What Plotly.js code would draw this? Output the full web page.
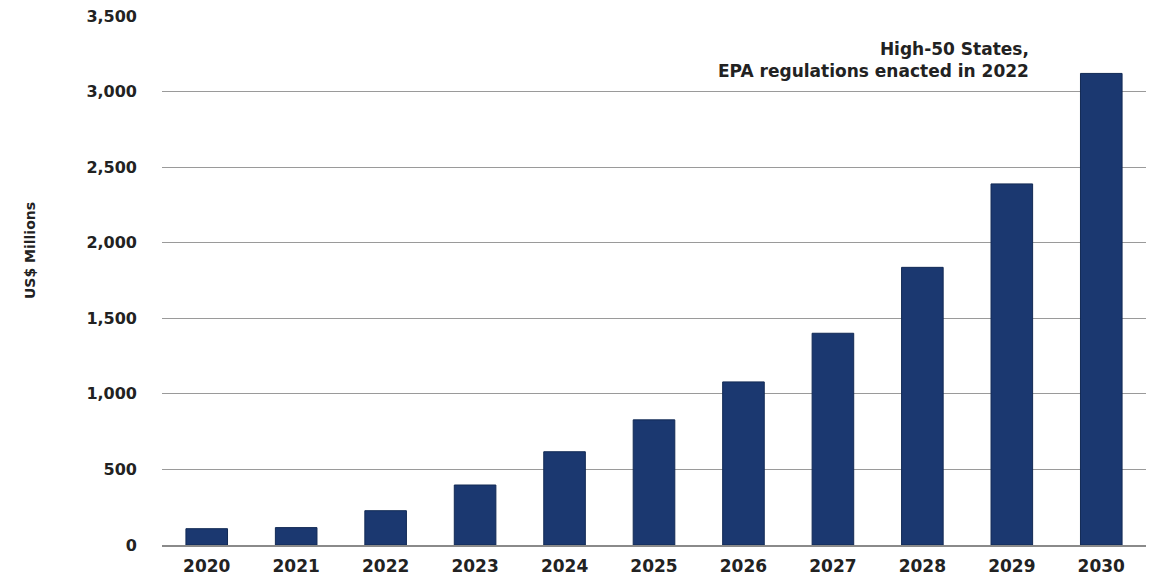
<!DOCTYPE html>
<html>
<head>
<meta charset="utf-8">
<script src="https://cdn.plot.ly/plotly-3.0.1.min.js"></script>
<style>html,body{margin:0;padding:0;background:#fff;}#chart{width:1161px;height:579px;}</style>
</head>
<body>
<div id="chart"></div>
<script>
const years = ["2020","2021","2022","2023","2024","2025","2026","2027","2028","2029","2030"];
const values = [108, 115, 227, 397, 617, 828, 1079, 1401, 1837, 2389, 3120];
const yTickVals = [0, 500, 1000, 1500, 2000, 2500, 3000, 3500];
const yTickText = ["0", "500", "1,000", "1,500", "2,000", "2,500", "3,000", "3,500"];
const yTitleText = "US$ Millions";
const noteText = "High-50 States,<br>EPA regulations enacted in 2022";

const fontFam = "DejaVu Sans, Liberation Sans, Arial, sans-serif";

const data = [{
  type: "bar",
  x: years,
  y: values,
  marker: { color: "#1b3870", line: { color: "#122a55", width: 1 } },
  hoverinfo: "x+y"
}];

const layout = {
  width: 1161,
  height: 579,
  margin: { l: 162, r: 15, t: 16, b: 34, pad: 0 },
  paper_bgcolor: "#ffffff",
  plot_bgcolor: "#ffffff",
  showlegend: false,
  bargap: 0.535,
  font: { family: fontFam, color: "#222222" },
  xaxis: {
    type: "category",
    tickfont: { family: fontFam, size: 17, color: "#222222", weight: "bold" },
    ticks: "",
    showline: true,
    linecolor: "#8a8a8a",
    linewidth: 1.5,
    showgrid: false,
    ticklabelstandoff: 5
  },
  yaxis: {
    range: [0, 3500],
    tickvals: yTickVals,
    ticktext: yTickText,
    tickfont: { family: fontFam, size: 16, color: "#222222", weight: "bold" },
    ticks: "",
    showgrid: true,
    gridcolor: "#9a9a9a",
    gridwidth: 1,
    zeroline: false,
    showline: false,
    ticklabelstandoff: 24
  },
  annotations: [{
    xref: "paper", yref: "paper",
    x: 0.8835, y: 0.96,
    xanchor: "right", yanchor: "top",
    align: "right",
    showarrow: false,
    text: noteText,
    font: { family: fontFam, size: 17, color: "#222222", weight: "bold" }
  }, {
    xref: "paper", yref: "paper",
    x: -0.134, y: 0.556,
    xanchor: "center", yanchor: "middle",
    textangle: -90,
    showarrow: false,
    text: yTitleText,
    font: { family: fontFam, size: 14, color: "#222222", weight: "bold" }
  }]
};

Plotly.newPlot("chart", data, layout, { displayModeBar: false, staticPlot: true });
</script>
</body>
</html>
